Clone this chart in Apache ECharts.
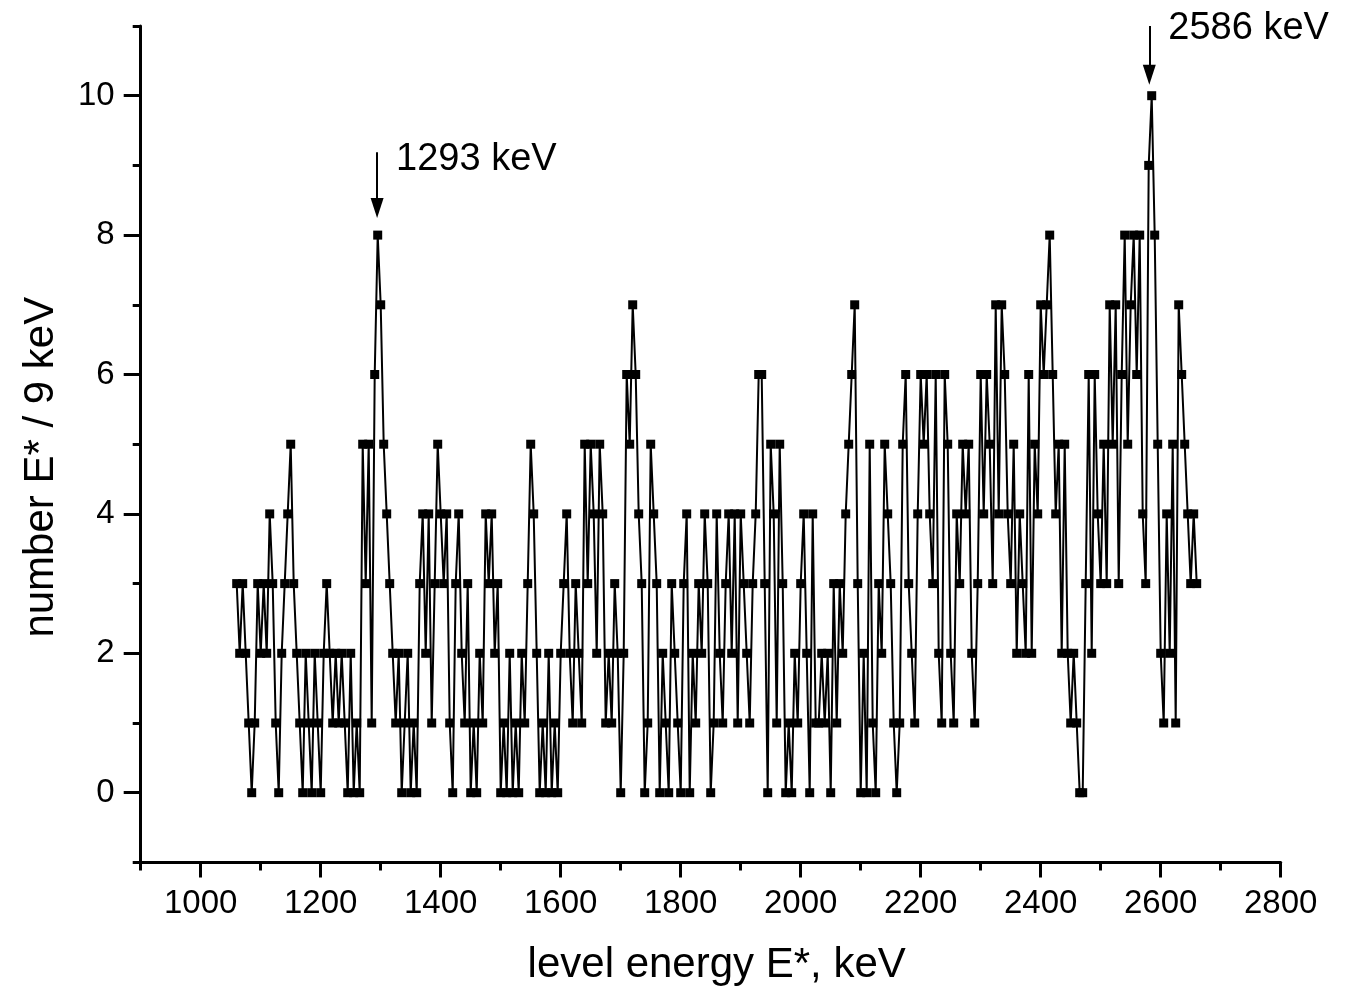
<!DOCTYPE html>
<html>
<head>
<meta charset="utf-8">
<script src="https://cdn.jsdelivr.net/npm/echarts@6/dist/echarts.min.js"></script>
<style>
  html, body { margin: 0; padding: 0; background: #fff; }
  #chart { width: 1348px; height: 996px; }
</style>
</head>
<body>
<div id="chart"></div>
<script>
// level energy E* (keV)
const energies = [
  1060,1065,1070,1075,1080,1085,1090,1095,1100,1105,1110,1115,1120,1125,1130,1135,1140,1145,1150,1155,
  1160,1165,1170,1175,1180,1185,1190,1195,1200,1205,1210,1215,1220,1225,1230,1235,1240,1245,1250,1255,
  1260,1265,1270,1275,1280,1285,1290,1295,1300,1305,1310,1315,1320,1325,1330,1335,1340,1345,1350,1355,
  1360,1365,1370,1375,1380,1385,1390,1395,1400,1405,1410,1415,1420,1425,1430,1435,1440,1445,1450,1455,
  1460,1465,1470,1475,1480,1485,1490,1495,1500,1505,1510,1515,1520,1525,1530,1535,1540,1545,1550,1555,
  1560,1565,1570,1575,1580,1585,1590,1595,1600,1605,1610,1615,1620,1625,1630,1635,1640,1645,1650,1655,
  1660,1665,1670,1675,1680,1685,1690,1695,1700,1705,1710,1715,1720,1725,1730,1735,1740,1745,1750,1755,
  1760,1765,1770,1775,1780,1785,1790,1795,1800,1805,1810,1815,1820,1825,1830,1835,1840,1845,1850,1855,
  1860,1865,1870,1875,1880,1885,1890,1895,1900,1905,1910,1915,1920,1925,1930,1935,1940,1945,1950,1955,
  1960,1965,1970,1975,1980,1985,1990,1995,2000,2005,2010,2015,2020,2025,2030,2035,2040,2045,2050,2055,
  2060,2065,2070,2075,2080,2085,2090,2095,2100,2105,2110,2115,2120,2125,2130,2135,2140,2145,2150,2155,
  2160,2165,2170,2175,2180,2185,2190,2195,2200,2205,2210,2215,2220,2225,2230,2235,2240,2245,2250,2255,
  2260,2265,2270,2275,2280,2285,2290,2295,2300,2305,2310,2315,2320,2325,2330,2335,2340,2345,2350,2355,
  2360,2365,2370,2375,2380,2385,2390,2395,2400,2405,2410,2415,2420,2425,2430,2435,2440,2445,2450,2455,
  2460,2465,2470,2475,2480,2485,2490,2495,2500,2505,2510,2515,2520,2525,2530,2535,2540,2545,2550,2555,
  2560,2565,2570,2575,2580,2585,2590,2595,2600,2605,2610,2615,2620,2625,2630,2635,2640,2645,2650,2655,
  2660
];
// number of E* per 9 keV
const counts = [
  3,2,3,2,1,0,1,3,2,3,2,4,3,1,0,2,3,4,5,3,
  2,1,0,2,1,0,2,1,0,2,3,2,1,2,1,2,1,0,2,0,
  1,0,5,3,5,1,6,8,7,5,4,3,2,1,2,0,1,2,0,1,
  0,3,4,2,4,1,3,5,4,3,4,1,0,3,4,2,1,3,0,1,
  0,2,1,4,3,4,2,3,0,1,0,2,0,1,0,2,1,3,5,4,
  2,0,1,0,2,0,1,0,2,3,4,2,1,3,2,1,5,3,5,4,
  2,5,4,1,2,1,3,2,0,2,6,5,7,6,4,3,0,1,5,4,
  3,0,2,1,0,3,2,1,0,3,4,0,2,1,3,2,4,3,0,1,
  4,2,1,3,4,2,4,1,4,3,2,1,3,4,6,6,3,0,5,4,
  1,5,3,0,1,0,2,1,3,4,2,0,4,1,1,2,1,2,0,3,
  1,3,2,4,5,6,7,3,0,2,0,5,1,0,3,2,5,4,3,1,
  0,1,5,6,3,2,1,4,6,5,6,4,3,6,2,1,6,5,2,1,
  4,3,5,4,5,2,1,3,6,4,6,5,3,7,4,7,6,4,3,5,
  2,4,3,2,6,2,5,4,7,6,7,8,6,4,5,2,5,2,1,2,
  1,0,0,3,6,2,6,4,3,5,3,7,5,7,3,6,8,5,7,8,
  6,8,4,3,9,10,8,5,2,1,4,2,5,1,7,6,5,4,3,4,
  3
];
// tick labels
const xTickLabels = [1000, 1200, 1400, 1600, 1800, 2000, 2200, 2400, 2600, 2800];
const yTickLabels = [0, 2, 4, 6, 8, 10];
// annotated peaks
const peakNames = ['1293 keV', '2586 keV'];
const peakE = [1294, 2581];
const arrowTop = [9.19, 11.0];
const arrowTip = [8.39, 10.30];
const labelY = [9.08, 10.96];

const FONT = 'Liberation Sans, Arial, Helvetica, sans-serif';
const seriesData = energies.map((e, i) => [e, counts[i]]);

const chart = echarts.init(document.getElementById('chart'), null, { renderer: 'canvas' });
chart.setOption({
  animation: false,
  backgroundColor: '#fff',
  grid: [
    { left: 140.7, right: 67.3, top: 26, bottom: 133.6 },   // main plot
    { left: 200.7, right: 67.3, top: 26, bottom: 133.6 },   // major x ticks 1000..2800
    { left: 140.7, right: 67.3, top: 95.7, bottom: 203.3 }  // major y ticks 0..10
  ],
  xAxis: [
    {
      gridIndex: 0, type: 'value', min: 900, max: 2800, interval: 100,
      axisLine: { show: true, onZero: false, lineStyle: { color: '#000', width: 3 } },
      axisTick: { show: true, length: 8, lineStyle: { color: '#000', width: 3 } },
      axisLabel: { show: false },
      splitLine: { show: false },
      name: 'level energy E*, keV', nameLocation: 'middle', nameGap: 82,
      nameTextStyle: { fontFamily: FONT, fontSize: 42, color: '#000', padding: [0, 0, 0, 12] }
    },
    {
      gridIndex: 1, type: 'value', min: 1000, max: 2800, interval: 200,
      axisLine: { show: false, onZero: false },
      axisTick: { show: true, length: 15, lineStyle: { color: '#000', width: 3 } },
      axisLabel: { show: true, margin: 25, fontFamily: FONT, fontSize: 33, color: '#000',
        formatter: v => xTickLabels.includes(v) ? String(v) : '' },
      splitLine: { show: false }
    },
    { gridIndex: 2, type: 'value', min: 900, max: 2800, show: false }
  ],
  yAxis: [
    {
      gridIndex: 0, type: 'value', min: -1, max: 11, interval: 1,
      axisLine: { show: true, onZero: false, lineStyle: { color: '#000', width: 3 } },
      axisTick: { show: true, length: 8, lineStyle: { color: '#000', width: 3 } },
      axisLabel: { show: false },
      splitLine: { show: false },
      name: 'number E* / 9 keV', nameLocation: 'middle', nameGap: 78,
      nameTextStyle: { fontFamily: FONT, fontSize: 42, color: '#000', padding: [0, 46, 0, 0] }
    },
    { gridIndex: 1, type: 'value', min: -1, max: 11, show: false },
    {
      gridIndex: 2, type: 'value', min: 0, max: 10, interval: 2,
      axisLine: { show: false, onZero: false },
      axisTick: { show: true, length: 17, lineStyle: { color: '#000', width: 3 } },
      axisLabel: { show: true, margin: 26, fontFamily: FONT, fontSize: 33, color: '#000',
        formatter: v => yTickLabels.includes(v) ? String(v) : '' },
      splitLine: { show: false }
    }
  ],
  series: [
    {
      type: 'line', xAxisIndex: 0, yAxisIndex: 0,
      data: seriesData,
      symbol: 'rect', symbolSize: 9, showAllSymbol: true,
      clip: false,
      lineStyle: { color: '#000', width: 2 },
      itemStyle: { color: '#000' },
      emphasis: { disabled: true },
      markLine: {
        silent: true, animation: false,
        symbol: ['none', 'triangle'], symbolSize: [13, 20],
        lineStyle: { color: '#000', width: 2, type: 'solid' },
        label: { show: false },
        data: peakE.map((e, i) => [{ coord: [e, arrowTop[i]] }, { coord: [e, arrowTip[i]] }])
      },
      markPoint: {
        silent: true, animation: false,
        symbol: 'rect', symbolSize: 0,
        label: { show: true, position: 'right', distance: 19, fontFamily: FONT, fontSize: 38, color: '#000',
          formatter: p => p.name },
        data: peakE.map((e, i) => ({ name: peakNames[i], coord: [e, labelY[i]] }))
      }
    }
  ]
});
</script>
</body>
</html>
